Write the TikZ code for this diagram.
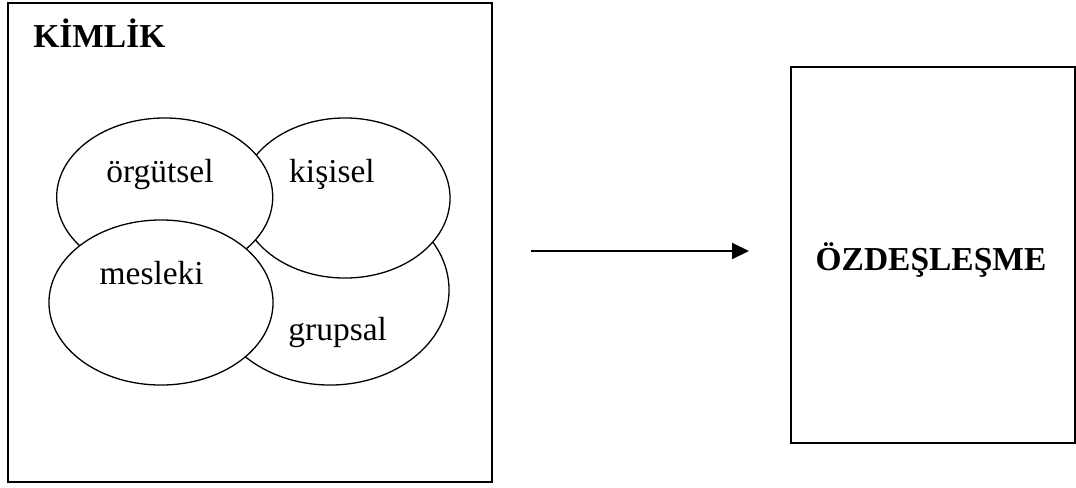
\documentclass[tikz,border=0pt]{standalone}
\usepackage{fontspec}
\setmainfont{Liberation Serif}
\usetikzlibrary{shapes.geometric,arrows.meta}

\begin{document}
\begin{tikzpicture}[x=0.025cm, y=-0.025cm, >={Triangle[length=0.425cm,width=0.4cm]},
  kutu/.style={draw, rectangle, line width=0.05cm, inner sep=0pt},
  halka/.style={draw, ellipse, fill=white, line width=0.0325cm, inner sep=0pt},
  yazi/.style={inner sep=0pt, anchor=base, font=\fontsize{23.8}{28}\selectfont}]

\useasboundingbox (0,0) rectangle (1076,487);

% --- Kimlik ---
\node[kutu, minimum width=12.1cm, minimum height=11.975cm] (kimlik) at (250,242.5) {};
\node[yazi, anchor=base west, font=\fontsize{23.8}{28}\selectfont\bfseries] (baslik) at (33,47) {KİMLİK};

% --- Halkalar ---
\node[halka, minimum width=5.95cm, minimum height=4.75cm] (grupsal) at (330,290) {};
\node[halka, minimum width=5.25cm, minimum height=4cm] (kisisel) at (345,198) {};
\node[halka, minimum width=5.4cm, minimum height=3.95cm] (orgutsel) at (164.7,197) {};
\node[halka, minimum width=5.6cm, minimum height=4.125cm] (mesleki) at (161,302.5) {};

\node[yazi] (torgutsel) at (160,182.7) {örgütsel};
\node[yazi] (tkisisel) at (332,182.7) {kişisel};
\node[yazi] (tmesleki) at (151.7,284) {mesleki};
\node[yazi] (tgrupsal) at (337.7,340.7) {grupsal};

% --- Ok ---
\coordinate (ok1) at (531,251);
\coordinate (ok2) at (749,251);
\draw[->, line width=0.05cm] (ok1) -- (ok2);

% --- Ozdeslesme ---
\node[kutu, minimum width=7.1cm, minimum height=9.4cm] (ozd) at (933,255) {};
\node[yazi, font=\fontsize{23.8}{28}\selectfont\bfseries] (tozd) at (931,270) {ÖZDEŞLEŞME};

\end{tikzpicture}
\end{document}
